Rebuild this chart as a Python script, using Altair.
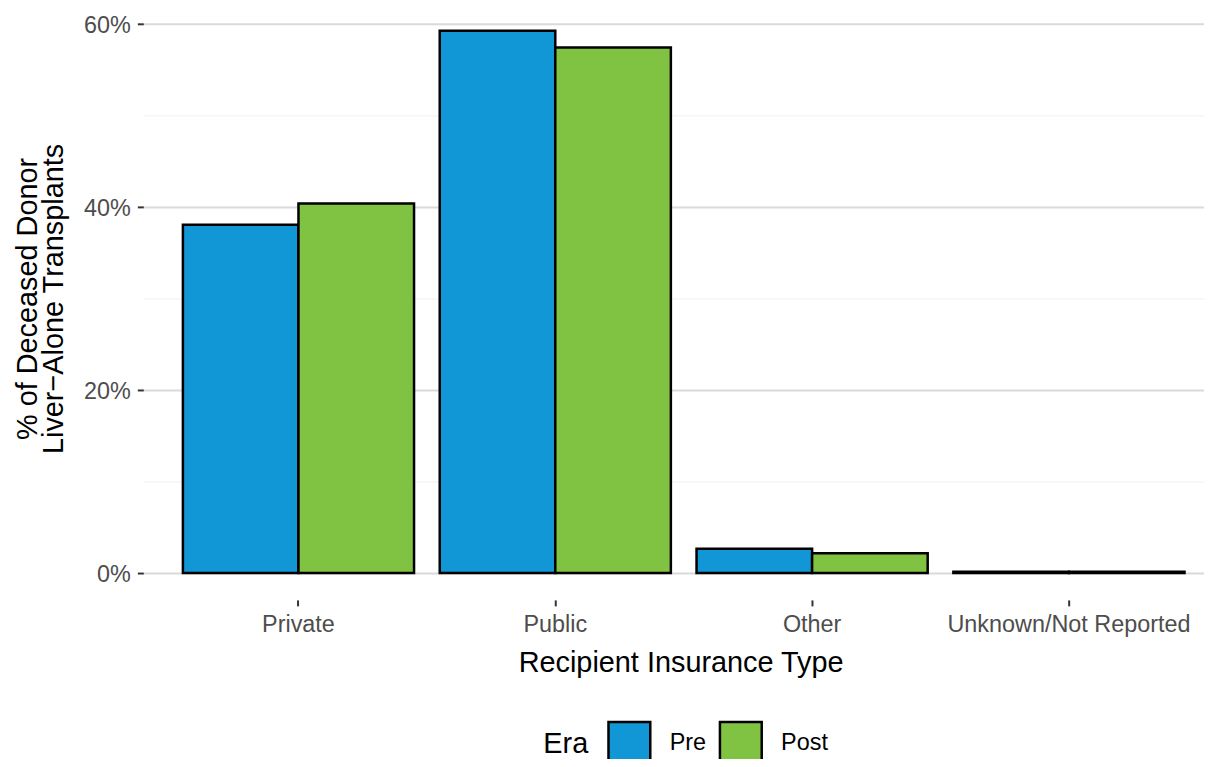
import altair as alt
import pandas as pd

categories = ["Private", "Public", "Other", "Unknown/Not Reported"]
eras = ["Pre", "Post"]
pre_values = [0.3804, 0.5924, 0.0266, 0.0015]
post_values = [0.4036, 0.5740, 0.0217, 0.0015]
major_ticks = [0.0, 0.2, 0.4, 0.6]
minor_ticks = [0.1, 0.3, 0.5]
era_colors = ["#1197D6", "#80C342"]

rows = []
for c, v in zip(categories, pre_values):
    rows.append({"cat": c, "era": "Pre", "pct": v})
for c, v in zip(categories, post_values):
    rows.append({"cat": c, "era": "Post", "pct": v})
df = pd.DataFrame(rows)

yscale = alt.Scale(domain=[-0.02935, 0.6152], nice=False, zero=False)

bars = alt.Chart(df).mark_bar(stroke="black", strokeWidth=2.5).encode(
    x=alt.X(
        "cat:N",
        sort=categories,
        scale=alt.Scale(paddingInner=0.1, paddingOuter=0.115, align=0.67),
        axis=alt.Axis(
            title="Recipient Insurance Type",
            labelAngle=0,
            labelFontSize=23.5,
            labelColor="#4D4D4D",
            labelPadding=7,
            labelLimit=0,
            tickSize=6,
            tickWidth=2,
            tickColor="#333333",
            domain=False,
            grid=False,
            titleFontSize=29,
            titleFontWeight="normal",
            titleColor="black",
            titleBaseline="alphabetic",
            titleAlign="center",
            titleX=540,
            titleY=72,
        ),
    ),
    xOffset=alt.XOffset("era:N", sort=eras, scale=alt.Scale(paddingInner=0, paddingOuter=0)),
    y=alt.Y(
        "pct:Q",
        scale=yscale,
        stack=None,
        axis=alt.Axis(
            values=major_ticks,
            format=".0%",
            orient="left",
            title=["% of Deceased Donor", "Liver\u2212Alone Transplants"],
            labelFontSize=23.5,
            labelColor="#4D4D4D",
            labelPadding=7,
            labelOffset=2,
            tickSize=6,
            tickWidth=2,
            tickColor="#333333",
            domain=False,
            grid=True,
            gridColor="#DADADA",
            gridWidth=2,
            titleFontSize=29,
            titleFontWeight="normal",
            titleColor="black",
            titleAngle=270,
            titleAlign="center",
            titleBaseline="middle",
            titleLineHeight=26,
            titleX=-116,
            titleY=290,
        ),
    ),
    color=alt.Color(
        "era:N",
        sort=eras,
        scale=alt.Scale(domain=eras, range=era_colors),
        legend=alt.Legend(
            title="Era",
            orient="none",
            direction="horizontal",
            legendX=402,
            legendY=714,
            titleOrient="left",
            titleFontSize=29,
            titleFontWeight="normal",
            titleColor="black",
            titlePadding=18,
            titleBaseline="middle",
            labelFontSize=23.5,
            labelColor="black",
            labelOffset=18,
            columnPadding=8,
            symbolType="square",
            symbolSize=1764,
            symbolStrokeColor="black",
            symbolStrokeWidth=2.5,
            symbolOpacity=1,
            padding=0,
        ),
    ),
)

minor = alt.Chart(pd.DataFrame({"v": minor_ticks})).mark_rule(opacity=0).encode(
    y=alt.Y(
        "v:Q",
        scale=yscale,
        axis=alt.Axis(
            values=minor_ticks,
            orient="left",
            labels=False,
            ticks=False,
            domain=False,
            title=None,
            grid=True,
            gridColor="#EFEFEF",
            gridWidth=1,
        ),
    )
)

chart = alt.layer(minor, bars).resolve_axis(y="independent").properties(
    width=1066,
    height=593,
    autosize=alt.AutoSizeParams(type="none"),
    padding={"left": 136, "top": 0, "right": 0, "bottom": 158},
).configure(
    font="Liberation Sans",
    view=alt.ViewConfig(stroke="transparent", strokeWidth=0),
)

chart.save("out.html", embed_options={"renderer": "svg", "actions": False})
